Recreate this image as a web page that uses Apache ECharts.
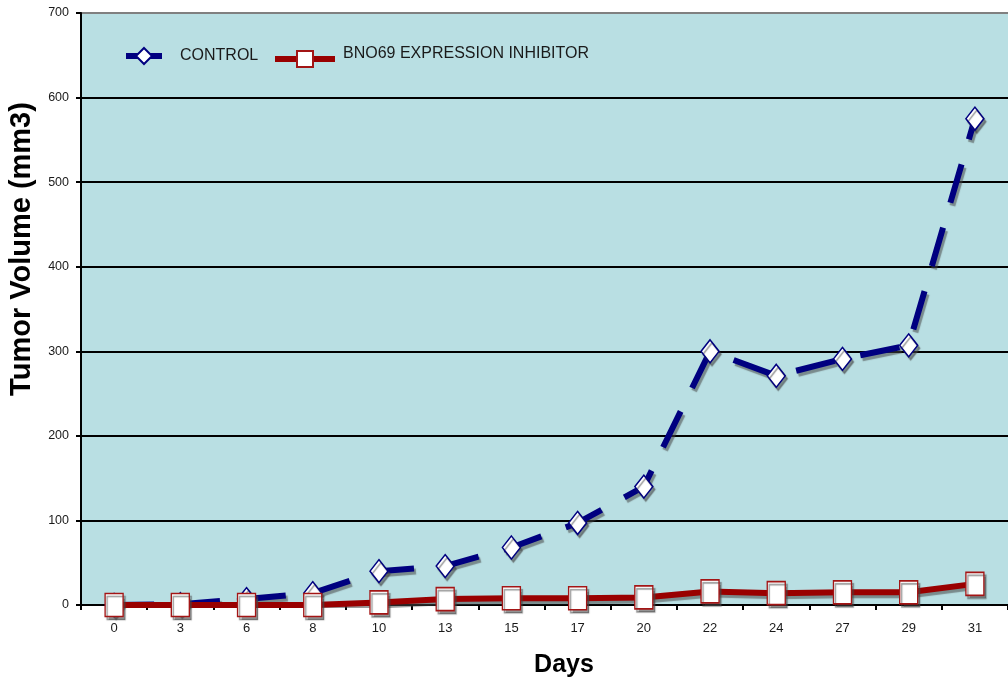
<!DOCTYPE html>
<html>
<head>
<meta charset="utf-8">
<script src="https://cdn.jsdelivr.net/npm/echarts@6/dist/echarts.min.js"></script>
<style>
  html, body { margin: 0; padding: 0; background: #fff; }
  #chart { width: 1008px; height: 681px; }
</style>
</head>
<body>
<div id="chart"></div>
<script>
// Tumor volume measurements by day
const days = ['0', '3', '6', '8', '10', '13', '15', '17', '20', '22', '24', '27', '29', '31'];
const controlVolume = [0, 1, 7, 14, 40, 46, 68, 97, 140, 300, 271, 291, 307, 575];
const inhibitorVolume = [0, 0, 0, 0, 3, 7, 8, 8, 9, 16, 14, 15, 15, 25];
const seriesNames = ['CONTROL', 'BNO69 EXPRESSION INHIBITOR'];

const FONT = '"Liberation Sans", Arial, Helvetica, sans-serif';
const shadow = { shadowColor: 'rgba(70,70,70,0.55)', shadowOffsetX: 2, shadowOffsetY: 3, shadowBlur: 1 };

const chart = echarts.init(document.getElementById('chart'), null, { renderer: 'canvas' });

chart.setOption({
  animation: false,
  backgroundColor: '#ffffff',
  textStyle: { fontFamily: FONT },
  grid: {
    left: 81, top: 13, width: 938, height: 592,
    show: true, backgroundColor: '#B9DFE3', borderWidth: 0
  },
  legend: [
    {
      data: [seriesNames[0]],
      left: 123, top: 47, padding: 0,
      itemWidth: 36, itemHeight: 20,
      lineStyle: { width: 6 },
      textStyle: { fontFamily: FONT, fontSize: 16, color: '#1a1a1a', padding: [0, 0, 0, 13] }
    },
    {
      data: [seriesNames[1]],
      left: 272, top: 46, padding: 0,
      itemWidth: 60, itemHeight: 20,
      lineStyle: { width: 6 },
      formatter: '{t|{name}}',
      textStyle: {
        fontFamily: FONT, fontSize: 16, color: '#1a1a1a',
        rich: { t: { fontFamily: FONT, fontSize: 16, color: '#1a1a1a', padding: [0, 0, 10, 3] } }
      }
    }
  ],
  xAxis: {
    type: 'category',
    data: days,
    boundaryGap: true,
    axisLine: { lineStyle: { color: '#000', width: 2 } },
    axisTick: { show: true, interval: 0, length: 5, lineStyle: { color: '#000', width: 2 } },
    axisLabel: { interval: 0, fontSize: 13, color: '#1a1a1a', margin: 17, fontFamily: FONT },
    splitLine: { show: false }
  },
  yAxis: {
    type: 'value',
    min: 0, max: 700, interval: 100,
    axisLine: { show: true, lineStyle: { color: '#000', width: 2 } },
    axisTick: { show: true, length: 5, lineStyle: { color: '#000', width: 2 } },
    axisLabel: { fontSize: 12.5, color: '#1a1a1a', margin: 12, fontFamily: FONT },
    splitLine: {
      show: true,
      lineStyle: {
        width: 2,
        color: ['#000', '#000', '#000', '#000', '#000', '#000', '#000', '#808080']
      }
    }
  },
  graphic: [
    {
      type: 'text',
      x: 22, y: 249,
      rotation: Math.PI / 2,
      style: {
        text: 'Tumor Volume (mm3)',
        font: 'bold 29px ' + FONT,
        fill: '#000',
        textAlign: 'center',
        textVerticalAlign: 'middle'
      }
    },
    {
      type: 'text',
      x: 564, y: 665,
      style: {
        text: 'Days',
        font: 'bold 25px ' + FONT,
        fill: '#000',
        textAlign: 'center',
        textVerticalAlign: 'middle'
      }
    }
  ],
  series: [
    {
      name: seriesNames[0],
      type: 'line',
      data: controlVolume,
      color: '#000080',
      symbol: 'diamond',
      symbolSize: [18, 23],
      showAllSymbol: true,
      lineStyle: Object.assign({ color: '#000080', width: 6, type: [40, 26], cap: 'butt' }, shadow),
      itemStyle: Object.assign({ color: '#ffffff', borderColor: '#000080', borderWidth: 1.5 }, shadow),
      z: 2
    },
    {
      name: seriesNames[1],
      type: 'line',
      data: inhibitorVolume,
      color: '#990000',
      symbol: 'rect',
      symbolSize: [18, 23],
      showAllSymbol: true,
      lineStyle: Object.assign({ color: '#990000', width: 6 }, shadow),
      itemStyle: Object.assign({ color: '#ffffff', borderColor: '#A31515', borderWidth: 1.5 }, shadow),
      z: 3
    }
  ]
});
</script>
</body>
</html>
